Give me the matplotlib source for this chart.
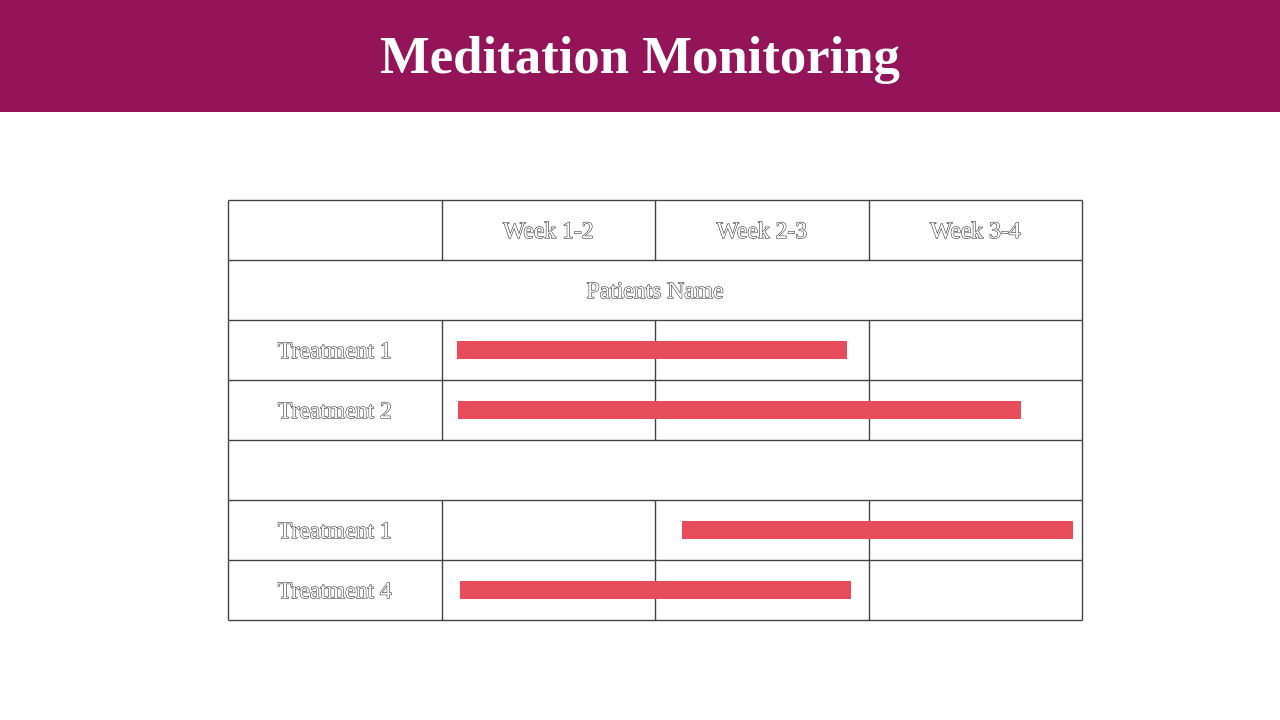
import matplotlib
matplotlib.use("Agg")
import matplotlib.pyplot as plt
import matplotlib.patheffects as pe
from matplotlib.patches import Rectangle

title = "Meditation Monitoring"
week_labels = ["Week 1-2", "Week 2-3", "Week 3-4"]
group_label = "Patients Name"
row_labels = ["", group_label, "Treatment 1", "Treatment 2", "", "Treatment 1", "Treatment 4"]
bar_rows = [2, 3, 5, 6]
bar_start = [1.073, 1.078, 2.126, 1.085]
bar_end = [2.899, 3.714, 3.958, 2.917]

HEADER = "#94145A"
BAR = "#E84B5A"
LINE = "#444444"

fig = plt.figure(figsize=(12.8, 7.2), dpi=100)
fig.patch.set_facecolor("white")

# header band
fig.patches.append(Rectangle((0, 1 - 112 / 720), 1, 112 / 720, transform=fig.transFigure,
                             facecolor=HEADER, edgecolor="none", zorder=0))
fig.text(0.5, 1 - 60 / 720, title, ha="center", va="center", color="white",
         fontsize=38, fontweight="bold", family="Liberation Serif")

ax = fig.add_axes([228 / 1280, 100 / 720, 854 / 1280, 420 / 720])
ax.set_xlim(0, 4)
ax.set_ylim(7, 0)
ax.axis("off")

outline = [pe.Stroke(linewidth=0.8, foreground="#3a3a3a"), pe.Normal()]
tkw = dict(ha="center", va="center_baseline", color="white", fontsize=17,
           family="Liberation Serif", path_effects=outline)

# grid lines
lw = 1.0
for y in range(8):
    ax.plot([0, 4], [y, y], color=LINE, lw=lw, solid_capstyle="butt", clip_on=False)
full_rows = {1, 4}
for x in range(5):
    for r in range(7):
        if r in full_rows and x not in (0, 4):
            continue
        ax.plot([x, x], [r, r + 1], color=LINE, lw=lw, solid_capstyle="butt", clip_on=False)

# header texts
for i, lab in enumerate(week_labels):
    ax.text(i + 1.5, 0.5, lab, **tkw)
ax.text(2, 1.5, group_label, **tkw)
for r, lab in enumerate(row_labels):
    if r >= 2 and lab:
        ax.text(0.5, r + 0.5, lab, **tkw)

# bars
ax.barh([r + 0.5 for r in bar_rows], [e - s for s, e in zip(bar_start, bar_end)],
        left=bar_start, height=0.31, color=BAR, zorder=3)

fig.savefig("out.png", dpi=100, facecolor="white")
